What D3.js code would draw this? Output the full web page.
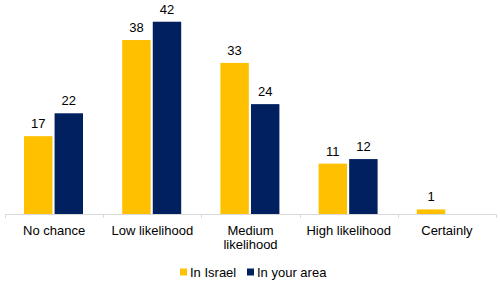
<!DOCTYPE html>
<html>
<head>
<meta charset="utf-8">
<script src="https://cdn.jsdelivr.net/npm/d3@7"></script>
<style>
  body { margin: 0; background: #fff; }
  text { font-family: "Liberation Sans", Arial, sans-serif; fill: #000; }
</style>
</head>
<body>
<svg id="chart"></svg>
<script>
const categories = ['No chance', 'Low likelihood', 'Medium likelihood', 'High likelihood', 'Certainly']
const catLines = [['No chance'], ['Low likelihood'], ['Medium', 'likelihood'], ['High likelihood'], ['Certainly']]
const seriesNames = ['In Israel', 'In your area']
const israel = [17, 38, 33, 11, 1]
const yourArea = [22, 42, 24, 12, null]

const colors = ['#FFC000', '#002060']

let w = 500, h = 283
let m = {top: 8, left: 5, right: 4, bottom: 69}

let svg = d3.select('#chart').attr('width', w).attr('height', h)

let x = d3.scaleBand().domain(categories).range([m.left, w - m.right])
let xInner = d3.scaleBand().domain(seriesNames).range([19, 19 + 59]).paddingInner(0.07)
let y = d3.scaleLinear().domain([0, 45]).range([h - m.bottom, m.top])

let rows = categories.map((c, i) => ({cat: c, vals: [israel[i], yourArea[i]]}))

// bars
let groups = svg.selectAll('g.cat')
    .data(rows)
    .enter().append('g')
    .attr('class', 'cat')
    .attr('transform', d => `translate(${x(d.cat)},0)`)

groups.selectAll('rect')
    .data(d => d.vals.map((v, j) => ({name: seriesNames[j], v: v, j: j})).filter(d => d.v != null))
    .enter().append('rect')
    .attr('x', d => xInner(d.name))
    .attr('width', xInner.bandwidth())
    .attr('y', d => y(d.v))
    .attr('height', d => y(0) - y(d.v))
    .style('fill', d => colors[d.j])

groups.selectAll('text.val')
    .data(d => d.vals.map((v, j) => ({name: seriesNames[j], v: v})).filter(d => d.v != null))
    .enter().append('text')
    .attr('class', 'val')
    .attr('x', d => xInner(d.name) + xInner.bandwidth() / 2)
    .attr('y', d => y(d.v) - 8)
    .attr('text-anchor', 'middle')
    .style('font-size', '13px')
    .text(d => d.v)

// x axis
svg.append('line')
    .attr('x1', m.left).attr('x2', w - m.right)
    .attr('y1', y(0) + 0.5).attr('y2', y(0) + 0.5)
    .style('stroke', '#D9D9D9')

let ticks = categories.map(c => x(c)).concat([x.range()[1]])
svg.selectAll('line.tick')
    .data(ticks)
    .enter().append('line')
    .attr('class', 'tick')
    .attr('x1', d => Math.round(d) + 0.5).attr('x2', d => Math.round(d) + 0.5)
    .attr('y1', y(0)).attr('y2', y(0) + 4)
    .style('stroke', '#D9D9D9')

let labels = svg.selectAll('text.cat')
    .data(categories)
    .enter().append('text')
    .attr('class', 'cat')
    .attr('text-anchor', 'middle')
    .attr('x', d => x(d) + x.bandwidth() / 2)
    .attr('y', y(0) + 21)
    .style('font-size', '13px')

labels.selectAll('tspan')
    .data((d, i) => catLines[i])
    .enter().append('tspan')
    .attr('x', function() { return d3.select(this.parentNode).attr('x') })
    .attr('dy', (d, i) => i === 0 ? 0 : 14)
    .text(d => d)

// legend
let legend = svg.append('g').attr('transform', 'translate(180, 272)')
let legX = [0, 67]
seriesNames.forEach((s, i) => {
    legend.append('rect')
        .attr('x', legX[i]).attr('y', -3.5)
        .attr('width', 7).attr('height', 7)
        .style('fill', colors[i])
    legend.append('text')
        .attr('x', legX[i] + 10).attr('y', 4.5)
        .style('font-size', '13px')
        .text(s)
})
</script>
</body>
</html>
